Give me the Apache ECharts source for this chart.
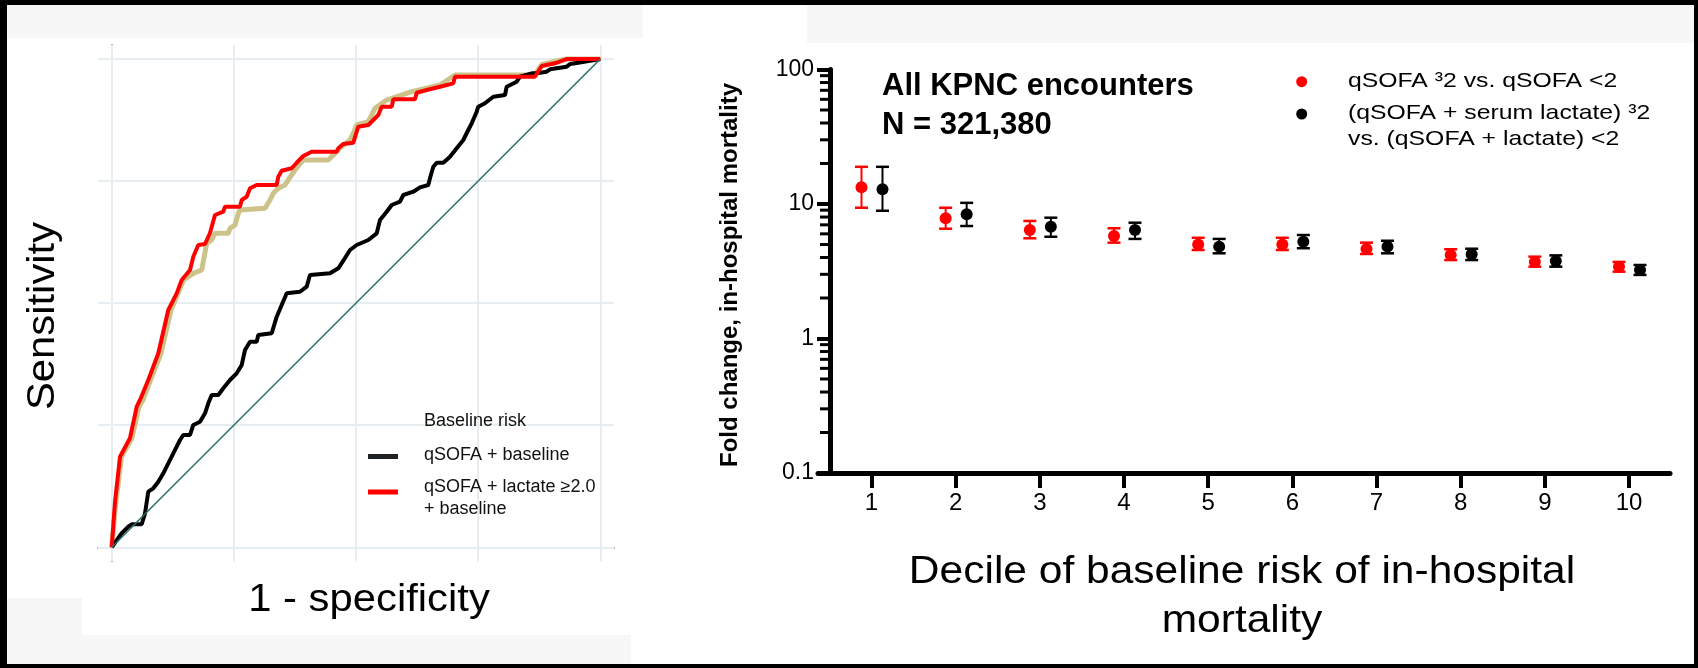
<!DOCTYPE html>
<html>
<head>
<meta charset="utf-8">
<script src="https://cdn.jsdelivr.net/npm/echarts@6/dist/echarts.min.js"></script>
<style>
  html, body { margin: 0; padding: 0; background: #000; }
  #main { width: 1698px; height: 668px; }
</style>
</head>
<body>
<div id="main"></div>
<script>
// ROC curves (left panel), [1 - specificity, sensitivity]
const rocLactate = [
  [0, 0], [0.0068, 0.0934], [0.017, 0.1855], [0.0375, 0.2238], [0.0512, 0.2879], [0.0579, 0.3017],
  [0.0749, 0.3426], [0.0954, 0.3973], [0.1158, 0.486], [0.133, 0.52], [0.1433, 0.5474], [0.1603, 0.5679],
  [0.167, 0.5951], [0.1772, 0.6191], [0.191, 0.6211], [0.2012, 0.6437], [0.2114, 0.6805], [0.2284, 0.6873],
  [0.2319, 0.6975], [0.2626, 0.6975], [0.2661, 0.7113], [0.2763, 0.718], [0.2831, 0.7352], [0.2968, 0.742],
  [0.3377, 0.742], [0.341, 0.759], [0.3479, 0.7712], [0.3684, 0.7762], [0.3786, 0.7876], [0.3921, 0.8014],
  [0.4093, 0.8102], [0.4605, 0.8102], [0.4638, 0.8171], [0.474, 0.826], [0.4945, 0.8286], [0.5047, 0.8614],
  [0.5252, 0.8649], [0.5354, 0.8751], [0.5456, 0.8853], [0.5526, 0.9023], [0.5731, 0.9023], [0.5763, 0.9175],
  [0.6208, 0.9175], [0.6242, 0.931], [0.6447, 0.9365], [0.6719, 0.9433], [0.6991, 0.9502], [0.7026, 0.9638],
  [0.8663, 0.9638], [0.8801, 0.9857], [0.9073, 0.9912], [0.9312, 1], [1, 1]
];
const rocBaseline = [
  [0, 0], [0.0088, 0.0934], [0.02, 0.1855], [0.0415, 0.2238], [0.0559, 0.2879], [0.064, 0.3017],
  [0.0794, 0.3426], [0.1009, 0.3973], [0.1214, 0.486], [0.1357, 0.52], [0.147, 0.5474], [0.167, 0.561],
  [0.1842, 0.5679], [0.1944, 0.6226], [0.2047, 0.6293], [0.2114, 0.643], [0.2386, 0.643], [0.2421, 0.6533],
  [0.2524, 0.66], [0.2591, 0.684], [0.2626, 0.6908], [0.3137, 0.6942], [0.324, 0.7112], [0.3307, 0.725],
  [0.341, 0.7352], [0.3547, 0.742], [0.3649, 0.7577], [0.3751, 0.7727], [0.3921, 0.7932], [0.4433, 0.7932],
  [0.4535, 0.8034], [0.4672, 0.8178], [0.4877, 0.8341], [0.4945, 0.8478], [0.5014, 0.8648], [0.5252, 0.8716],
  [0.5389, 0.899], [0.5628, 0.916], [0.614, 0.933], [0.6719, 0.9468], [0.7026, 0.9673], [0.8663, 0.9673],
  [0.8801, 0.9887], [0.9114, 0.996], [0.93, 1], [1, 1]
];
const rocQsofa = [
  [0, 0], [0.0068, 0.0094], [0.0205, 0.0287], [0.034, 0.0422], [0.0409, 0.0471], [0.0614, 0.0471],
  [0.0682, 0.0696], [0.0749, 0.1139], [0.0851, 0.1208], [0.0954, 0.1343], [0.1056, 0.1515], [0.1158, 0.172],
  [0.1261, 0.1925], [0.1398, 0.2197], [0.1465, 0.23], [0.1603, 0.23], [0.167, 0.2505], [0.1807, 0.2572],
  [0.191, 0.2744], [0.1977, 0.2949], [0.2047, 0.3119], [0.2182, 0.3119], [0.2284, 0.3256], [0.2421, 0.3426],
  [0.2558, 0.3563], [0.2661, 0.3733], [0.2728, 0.4041], [0.2831, 0.4211], [0.2968, 0.4211], [0.3, 0.4348],
  [0.3275, 0.4383], [0.3377, 0.4723], [0.3479, 0.4962], [0.3582, 0.5202], [0.3854, 0.5234], [0.3991, 0.5337],
  [0.4058, 0.5576], [0.4468, 0.5611], [0.4638, 0.5714], [0.474, 0.5869], [0.4877, 0.6088], [0.5014, 0.6191],
  [0.5252, 0.6293], [0.5424, 0.643], [0.5491, 0.6703], [0.5628, 0.6873], [0.5731, 0.701], [0.59, 0.7078],
  [0.5968, 0.7215], [0.6173, 0.7282], [0.631, 0.7372], [0.648, 0.742], [0.6514, 0.7557], [0.6582, 0.7794],
  [0.6652, 0.7876], [0.6787, 0.7876], [0.6924, 0.7999], [0.7061, 0.8171], [0.7196, 0.8341], [0.7298, 0.8546],
  [0.7368, 0.8683], [0.747, 0.8921], [0.7503, 0.9023], [0.764, 0.9093], [0.781, 0.9228], [0.805, 0.9263],
  [0.8084, 0.9433], [0.8289, 0.9535], [0.8357, 0.9638], [0.8596, 0.9707], [0.8698, 0.9707], [0.8903, 0.974],
  [0.8971, 0.9789], [0.9312, 0.9843], [0.9381, 0.9898], [0.955, 0.9924], [1, 1]
];
const refLine = [[0, 0], [1, 1]];
const rocTicks = [0, 0.25, 0.5, 0.75, 1];

// fold change by decile (right panel)
const deciles = [1, 2, 3, 4, 5, 6, 7, 8, 9, 10];
const qsofaFold = [13.3, 7.83, 6.41, 5.78, 5.0, 5.0, 4.63, 4.18, 3.71, 3.42];
const qsofaLow  = [9.38, 6.55, 5.56, 5.16, 4.55, 4.55, 4.25, 3.83, 3.42, 3.14];
const qsofaHigh = [18.9, 9.38, 7.48, 6.6, 5.61, 5.61, 5.16, 4.61, 4.06, 3.71];
const lactFold = [12.86, 8.38, 6.78, 6.41, 4.82, 5.25, 4.82, 4.23, 3.77, 3.23];
const lactLow  = [8.91, 6.86, 5.71, 5.5, 4.3, 4.69, 4.3, 3.83, 3.42, 2.97];
const lactHigh = [18.9, 10.2, 7.91, 7.26, 5.5, 5.88, 5.33, 4.65, 4.15, 3.52];
const minorTicks = [0.2, 0.3, 0.4, 0.5, 0.6, 0.7, 0.8, 0.9, 2, 3, 4, 5, 6, 7, 8, 9, 20, 30, 40, 50, 60, 70, 80, 90];
const decileMin = 0.3644;
const decileMax = 10.487;

const FONT = '"Liberation Sans", Arial, sans-serif';

function errorBar(offset, color, withMinorTicks) {
  return function (params, api) {
    const d = api.value(0);
    const lo = api.coord([d, api.value(1)]);
    const hi = api.coord([d, api.value(2)]);
    const x = lo[0] + offset;
    const w = 6.5;
    const children = [
      { type: 'line', shape: { x1: x, y1: hi[1], x2: x, y2: lo[1] }, style: { stroke: color, lineWidth: 2 } },
      { type: 'line', shape: { x1: x - w, y1: hi[1], x2: x + w, y2: hi[1] }, style: { stroke: color, lineWidth: 2.5 } },
      { type: 'line', shape: { x1: x - w, y1: lo[1], x2: x + w, y2: lo[1] }, style: { stroke: color, lineWidth: 2.5 } }
    ];
    // the log axis minor ticks (2..9 of each decade) go with the first item
    if (withMinorTicks && params.dataIndex === 0) {
      minorTicks.forEach(function (m) {
        const p = api.coord([decileMin, m]);
        children.push({ type: 'line', shape: { x1: p[0] + 2, y1: p[1], x2: p[0] + 12, y2: p[1] }, style: { stroke: '#000', lineWidth: 3 } });
      });
    }
    return { type: 'group', children: children };
  };
}

let myChart = echarts.init(document.getElementById('main'));

const gridLines = rocTicks.map(v => ({ xAxis: v })).concat(rocTicks.map(v => ({ yAxis: v })));

myChart.setOption({
  animation: false,
  backgroundColor: '#000',
  graphic: [
    // panels
    { type: 'rect', z: -10, shape: { x: 7, y: 5, width: 636, height: 659 }, style: { fill: '#fff' } },
    { type: 'rect', z: -9, shape: { x: 7, y: 5, width: 636, height: 33 }, style: { fill: '#f7f7f7' } },
    { type: 'rect', z: -9, shape: { x: 7, y: 635, width: 624, height: 29 }, style: { fill: '#f7f7f7' } },
    { type: 'rect', z: -9, shape: { x: 7, y: 598, width: 75, height: 37 }, style: { fill: '#f6f6f6' } },
    { type: 'rect', z: -10, shape: { x: 643, y: 5, width: 1051, height: 659 }, style: { fill: '#fff' } },
    { type: 'rect', z: -9, shape: { x: 807, y: 5, width: 887, height: 38 }, style: { fill: '#f7f7f7' } },

    // left panel titles
    { type: 'text', z: 100, x: 44, y: 316, rotation: Math.PI / 2, scaleX: 1.1,
      style: { text: 'Sensitivity', font: '38px ' + FONT, fill: '#000', align: 'center', verticalAlign: 'middle' } },
    { type: 'text', z: 100, x: 369, y: 601, scaleX: 1.1,
      style: { text: '1 - specificity', font: '38px ' + FONT, fill: '#000', align: 'center', verticalAlign: 'middle' } },

    // left legend
    { type: 'text', z: 100, x: 424, y: 421.5, style: { text: 'Baseline risk', font: '18px ' + FONT, fill: '#111', verticalAlign: 'middle' } },
    { type: 'line', z: 100, shape: { x1: 368, y1: 456.5, x2: 398, y2: 456.5 }, style: { stroke: '#1f2326', lineWidth: 5 } },
    { type: 'text', z: 100, x: 424, y: 455, style: { text: 'qSOFA + baseline', font: '18px ' + FONT, fill: '#111', verticalAlign: 'middle' } },
    { type: 'line', z: 100, shape: { x1: 368, y1: 492, x2: 398, y2: 492 }, style: { stroke: '#ff0000', lineWidth: 5 } },
    { type: 'text', z: 100, x: 424, y: 487.5, style: { text: 'qSOFA + lactate ≥2.0', font: '18px ' + FONT, fill: '#111', verticalAlign: 'middle' } },
    { type: 'text', z: 100, x: 424, y: 509, style: { text: '+ baseline', font: '18px ' + FONT, fill: '#111', verticalAlign: 'middle' } },

    // right panel texts
    { type: 'text', z: 100, x: 730, y: 275, rotation: Math.PI / 2,
      style: { text: 'Fold change, in-hospital mortality', font: 'bold 24px ' + FONT, fill: '#000', align: 'center', verticalAlign: 'middle' } },
    { type: 'text', z: 100, x: 882, y: 86, style: { text: 'All KPNC encounters', font: 'bold 31px ' + FONT, fill: '#000', verticalAlign: 'middle' } },
    { type: 'text', z: 100, x: 882, y: 125.5, style: { text: 'N = 321,380', font: 'bold 31px ' + FONT, fill: '#000', verticalAlign: 'middle' } },
    { type: 'text', z: 100, x: 1242, y: 572, scaleX: 1.09,
      style: { text: 'Decile of baseline risk of in-hospital', font: '39px ' + FONT, fill: '#000', align: 'center', verticalAlign: 'middle' } },
    { type: 'text', z: 100, x: 1242, y: 621, scaleX: 1.09,
      style: { text: 'mortality', font: '39px ' + FONT, fill: '#000', align: 'center', verticalAlign: 'middle' } },

    // right legend
    { type: 'circle', z: 100, shape: { cx: 1301.7, cy: 81.7, r: 5.5 }, style: { fill: '#ff0000' } },
    { type: 'circle', z: 100, shape: { cx: 1301.7, cy: 114, r: 5.5 }, style: { fill: '#000' } },
    { type: 'text', z: 100, x: 1348, y: 81, scaleX: 1.18, style: { text: 'qSOFA ³2 vs. qSOFA <2', font: '21px ' + FONT, fill: '#000', verticalAlign: 'middle' } },
    { type: 'text', z: 100, x: 1348, y: 113.2, scaleX: 1.18, style: { text: '(qSOFA + serum lactate) ³2', font: '21px ' + FONT, fill: '#000', verticalAlign: 'middle' } },
    { type: 'text', z: 100, x: 1348, y: 139.2, scaleX: 1.18, style: { text: 'vs. (qSOFA + lactate) <2', font: '21px ' + FONT, fill: '#000', verticalAlign: 'middle' } }
  ],
  grid: [
    { left: 98, top: 44.7, width: 516, height: 516.9 },
    // starts 12px left of the y axis line so the minor ticks sit inside the grid
    { left: 818, top: 69.5, right: 28, bottom: 195 }
  ],
  xAxis: [
    {
      type: 'value', gridIndex: 0, min: -0.02804, max: 1.02804,
      axisLine: { show: true, lineStyle: { color: '#5a5a5a', width: 1.5 } },
      axisTick: { show: true, customValues: rocTicks, length: 4, lineStyle: { color: '#5a5a5a', width: 1.5 } },
      axisLabel: { show: false },
      splitLine: { show: false }
    },
    {
      type: 'value', gridIndex: 1, min: decileMin, max: decileMax,
      axisLine: { show: true, lineStyle: { color: '#000', width: 5 } },
      axisTick: { show: true, customValues: deciles, length: 15, lineStyle: { color: '#000', width: 4 } },
      axisLabel: { customValues: deciles, fontSize: 24, color: '#000', margin: 18, fontFamily: FONT },
      splitLine: { show: false }
    }
  ],
  yAxis: [
    {
      type: 'value', gridIndex: 0, min: -0.0293, max: 1.0293,
      axisLine: { show: true, lineStyle: { color: '#5a5a5a', width: 1.5 } },
      axisTick: { show: true, customValues: rocTicks, length: 9, lineStyle: { color: '#5a5a5a', width: 1.5 } },
      axisLabel: { show: false },
      splitLine: { show: false }
    },
    {
      type: 'log', gridIndex: 1, logBase: 10, min: 0.1, max: 100, position: 'left', offset: -12,
      axisLine: { show: true, onZero: false, lineStyle: { color: '#000', width: 5 } },
      axisTick: { show: true, length: 13, lineStyle: { color: '#000', width: 4 } },
      axisLabel: { fontSize: 23, color: '#000', margin: 16, fontFamily: FONT },
      splitLine: { show: false }
    }
  ],
  series: [
    {
      name: 'Baseline risk', type: 'line', xAxisIndex: 0, yAxisIndex: 0,
      data: rocBaseline, showSymbol: false, z: 2,
      lineStyle: { color: '#cdc38a', width: 5 },
      markLine: {
        silent: true, symbol: 'none', z: 1, animation: false,
        label: { show: false },
        lineStyle: { color: '#e6eef2', width: 2, type: 'solid' },
        emphasis: { disabled: true },
        data: gridLines
      }
    },
    {
      name: 'qSOFA + baseline', type: 'line', xAxisIndex: 0, yAxisIndex: 0,
      data: rocQsofa, showSymbol: false, z: 3,
      lineStyle: { color: '#000', width: 4 }
    },
    {
      name: 'qSOFA + lactate ≥2.0 + baseline', type: 'line', xAxisIndex: 0, yAxisIndex: 0,
      data: rocLactate, showSymbol: false, z: 4,
      lineStyle: { color: '#ff0000', width: 4 }
    },
    {
      name: 'reference', type: 'line', xAxisIndex: 0, yAxisIndex: 0,
      data: refLine, showSymbol: false, z: 5,
      lineStyle: { color: '#2b6e69', width: 1.5 }
    },
    {
      type: 'custom', xAxisIndex: 1, yAxisIndex: 1, z: 2,
      renderItem: errorBar(-10, '#ff0000', false),
      encode: { x: 0, y: [1, 2] },
      data: deciles.map((d, i) => [d, qsofaLow[i], qsofaHigh[i]])
    },
    {
      type: 'custom', xAxisIndex: 1, yAxisIndex: 1, z: 2,
      renderItem: errorBar(11, '#000', true),
      encode: { x: 0, y: [1, 2] },
      data: deciles.map((d, i) => [d, lactLow[i], lactHigh[i]])
    },
    {
      name: 'qSOFA ³2 vs. qSOFA <2', type: 'scatter', xAxisIndex: 1, yAxisIndex: 1, z: 3,
      symbolSize: 12, symbolOffset: [-10, 0],
      itemStyle: { color: '#ff0000', opacity: 1 },
      data: deciles.map((d, i) => [d, qsofaFold[i]])
    },
    {
      name: '(qSOFA + serum lactate) ³2 vs. (qSOFA + lactate) <2', type: 'scatter', xAxisIndex: 1, yAxisIndex: 1, z: 3,
      symbolSize: 12, symbolOffset: [11, 0],
      itemStyle: { color: '#000', opacity: 1 },
      data: deciles.map((d, i) => [d, lactFold[i]])
    }
  ]
});
</script>
</body>
</html>
